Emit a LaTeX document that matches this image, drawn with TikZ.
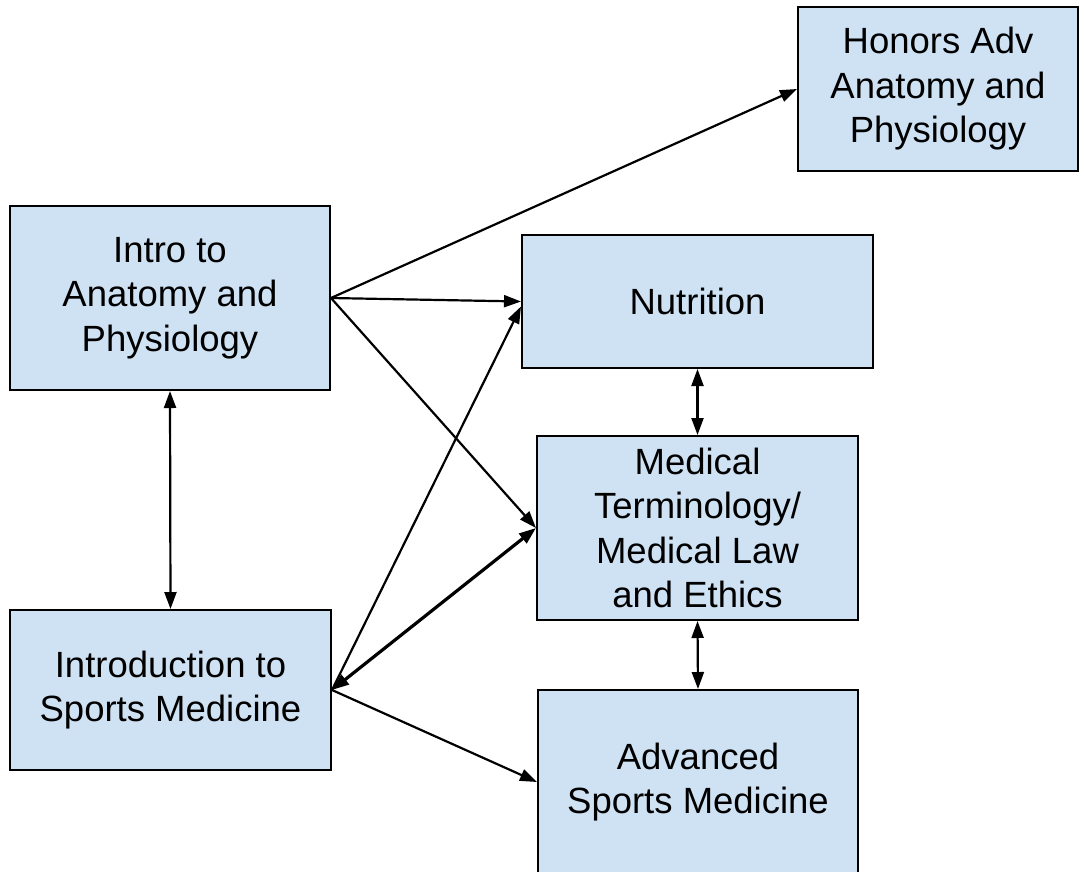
\documentclass[tikz,border=0pt]{standalone}
\usepackage{fontspec}
\setmainfont{Liberation Sans}
\usetikzlibrary{arrows.meta}
\definecolor{boxblue}{HTML}{CFE2F3}

\begin{document}
\begin{tikzpicture}[x=1pt, y=-1pt, >={Triangle[length=17pt,width=12pt]},
		course/.style={draw=black, line width=2pt, fill=boxblue, align=center,
			inner sep=0pt, font=\fontsize{36.5}{44.5}\selectfont},
		link/.style={->, line width=2.2pt},
		both/.style={<->, line width=2.2pt},
		strong/.style={<->, line width=3.2pt}]
		
		\useasboundingbox (0,0) rectangle (1084,871);
		
		% ---------- Left column ----------
		\node[course, minimum width=320pt, minimum height=184pt] (introap) at (170,298)
		{Intro to\\Anatomy and\\Physiology};
		\node[course, minimum width=321pt, minimum height=160pt] (introsports) at (170.5,690)
		{Introduction to\\Sports Medicine};
		
		% ---------- Right column ----------
		\node[course, minimum width=280pt, minimum height=164pt] (honors) at (938,89)
		{Honors Adv\\Anatomy and\\Physiology};
		\node[course, minimum width=351pt, minimum height=133pt] (nutrition) at (697.5,301.5)
		{Nutrition};
		\node[course, minimum width=321pt, minimum height=184pt] (medterm) at (697.5,528)
		{Medical\\Terminology/\\Medical Law\\and Ethics};
		\node[course, minimum width=320pt, minimum height=184pt] (advsports) at (698,782)
		{Advanced\\Sports Medicine};
		
		% ---------- Links out of Intro to Anatomy ----------
		\draw[link] (introap.east) -- (honors.west);
		\draw[link] (introap.east) -- (nutrition.west);
		\draw[link] (introap.east) -- (medterm.west);
		\draw[both] (introap.south) -- (introsports.north);
		
		% ---------- Links out of Intro to Sports Medicine ----------
		\draw[link] (introsports.east) -- ([yshift=-5pt]nutrition.west);
		\draw[strong] (introsports.east) -- (medterm.west);
		\draw[link] (introsports.east) -- (advsports.west);
		
		% ---------- Right column chain ----------
		\draw[both] (nutrition.south) -- (medterm.north);
		\draw[both] (medterm.south) -- (advsports.north);
		
	\end{tikzpicture}
\end{document}
